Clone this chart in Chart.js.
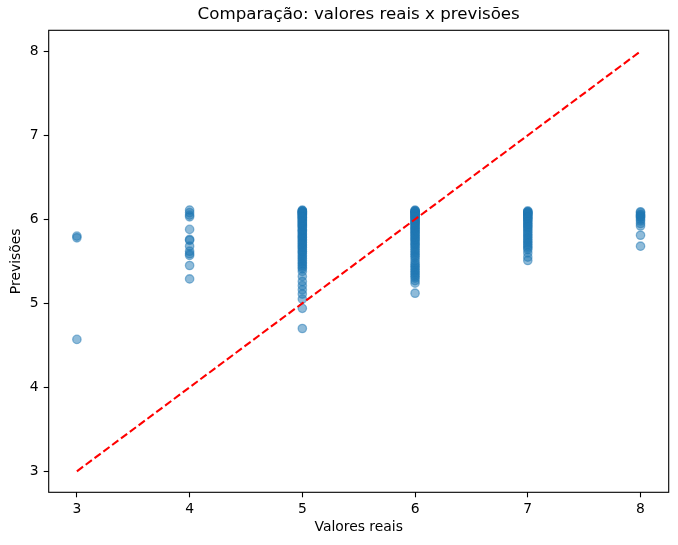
<!DOCTYPE html>
<html lang="pt">
<head>
  <meta charset="UTF-8">
  <title>Comparação: valores reais x previsões</title>
  <script src="https://cdn.jsdelivr.net/npm/chart.js@4.4.3/dist/chart.umd.min.js"></script>
  <style>
    html, body { margin: 0; padding: 0; background: #fff; }
    #wrap { width: 678px; height: 545px; }
  </style>
</head>
<body>
  <div id="wrap"><canvas id="scatterChart" width="678" height="545"></canvas></div>

  <script>
    // valores reais (eixo x) e previsões lidas por classe
    const categories = [3, 4, 5, 6, 7, 8];
    const pred3 = [5.80, 5.78, 4.57];
    const pred4 = [6.11, 6.08, 6.05, 6.03, 5.88, 5.76, 5.75, 5.68, 5.62, 5.59, 5.57, 5.45, 5.29];
    const pred5 = [6.11, 6.10, 6.10, 6.09, 6.09, 6.08, 6.08, 6.07, 6.07, 6.06, 6.05, 6.05, 6.04, 6.03,
      6.02, 6.02, 6.01, 6.00, 5.99, 5.98, 5.97, 5.96, 5.95, 5.94, 5.93, 5.92, 5.91, 5.90, 5.88, 5.87,
      5.86, 5.85, 5.83, 5.82, 5.80, 5.79, 5.78, 5.76, 5.75, 5.73, 5.72, 5.70, 5.69, 5.67, 5.66, 5.64,
      5.62, 5.61, 5.59, 5.57, 5.55, 5.53, 5.51, 5.49, 5.47, 5.45, 5.43, 5.41, 5.38, 5.32, 5.26, 5.21,
      5.16, 5.11, 5.05, 4.94, 4.70];
    const pred6 = [6.11, 6.10, 6.10, 6.09, 6.09, 6.08, 6.08, 6.07, 6.06, 6.06, 6.05, 6.04, 6.03, 6.03,
      6.02, 6.01, 6.00, 5.99, 5.98, 5.97, 5.96, 5.95, 5.94, 5.93, 5.91, 5.90, 5.89, 5.88, 5.86, 5.85,
      5.84, 5.82, 5.81, 5.79, 5.78, 5.76, 5.75, 5.73, 5.71, 5.70, 5.68, 5.66, 5.64, 5.62, 5.60, 5.58,
      5.56, 5.54, 5.51, 5.48, 5.46, 5.44, 5.42, 5.40, 5.38, 5.36, 5.34, 5.32, 5.30, 5.27, 5.24, 5.12];
    const pred7 = [6.10, 6.09, 6.09, 6.08, 6.07, 6.07, 6.06, 6.05, 6.04, 6.03, 6.02, 6.01, 6.00, 5.99,
      5.97, 5.96, 5.94, 5.93, 5.91, 5.90, 5.88, 5.86, 5.84, 5.82, 5.80, 5.78, 5.76, 5.74, 5.72, 5.70,
      5.68, 5.66, 5.64, 5.60, 5.55, 5.51];
    const pred8 = [6.09, 6.08, 6.06, 6.05, 6.04, 6.03, 6.02, 6.00, 5.98, 5.95, 5.92, 5.81, 5.68];
    const predictions = [pred3, pred4, pred5, pred6, pred7, pred8];
    const xTicks = [3, 4, 5, 6, 7, 8];
    const yTicks = [3, 4, 5, 6, 7, 8];

    const points = [];
    categories.forEach((c, i) => {
      predictions[i].forEach(v => points.push({ x: c, y: v }));
    });
    const lo = categories[0], hi = categories[categories.length - 1];
    const idealLine = [{ x: lo, y: lo }, { x: hi, y: hi }];

    const font = { family: "'DejaVu Sans', sans-serif", size: 13.9 };

    // moldura completa (spines) por cima dos dados
    const frame = {
      id: 'frame',
      afterDatasetsDraw(chart) {
        const { ctx, chartArea: a } = chart;
        ctx.save();
        ctx.strokeStyle = '#000';
        ctx.lineWidth = 1.1;
        ctx.strokeRect(a.left, a.top, a.right - a.left, a.bottom - a.top);
        ctx.restore();
      }
    };

    new Chart(document.getElementById('scatterChart'), {
      type: 'scatter',
      data: {
        datasets: [
          {
            data: idealLine,
            showLine: true,
            borderColor: '#ff0000',
            borderWidth: 2.08,
            borderDash: [7.7, 3.3],
            pointRadius: 0,
            fill: false,
            order: 0
          },
          {
            data: points,
            backgroundColor: 'rgba(31,119,180,0.5)',
            borderColor: 'rgba(31,119,180,0.5)',
            borderWidth: 1.3,
            pointRadius: 4.2,
            order: 1
          }
        ]
      },
      options: {
        responsive: false,
        animation: false,
        events: [],
        layout: { padding: { top: 0, right: 9.3, left: 0, bottom: 0 } },
        plugins: {
          legend: { display: false },
          tooltip: { enabled: false },
          title: {
            display: true,
            text: 'Comparação: valores reais x previsões',
            color: '#000',
            fullSize: false,
            font: { family: font.family, size: 16.67, weight: 'normal' },
            padding: { top: 5, bottom: 5.3 }
          }
        },
        scales: {
          x: {
            type: 'linear',
            min: 2.75,
            max: 8.25,
            afterBuildTicks: axis => { axis.ticks = xTicks.map(v => ({ value: v })); },
            afterFit: axis => { axis.height = 52.7; },
            grid: { drawOnChartArea: false, drawTicks: true, tickLength: 5, tickColor: '#000', tickWidth: 1.1 },
            border: { display: false },
            ticks: { color: '#000', font: font, padding: 3.6, maxRotation: 0 },
            title: {
              display: true,
              text: 'Valores reais',
              color: '#000',
              font: font,
              padding: { top: 0, bottom: 8.8 }
            }
          },
          y: {
            type: 'linear',
            min: 2.75,
            max: 8.25,
            afterBuildTicks: axis => { axis.ticks = yTicks.map(v => ({ value: v })); },
            afterFit: axis => { axis.width = 48.7; },
            grid: { drawOnChartArea: false, drawTicks: true, tickLength: 5, tickColor: '#000', tickWidth: 1.1 },
            border: { display: false },
            ticks: { color: '#000', font: font, padding: 5 },
            title: {
              display: true,
              text: 'Previsões',
              color: '#000',
              font: font,
              padding: { top: 8.4, bottom: 0 }
            }
          }
        }
      },
      plugins: [frame]
    });
  </script>
</body>
</html>
